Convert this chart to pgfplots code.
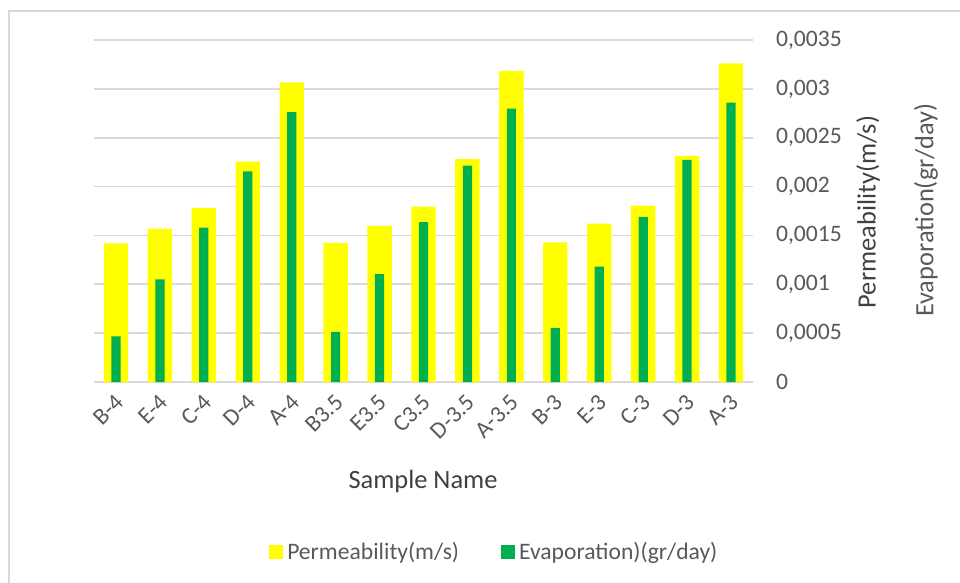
\documentclass[border=0pt]{standalone}
\usepackage{pgfplots}
\pgfplotsset{compat=1.18}
\usepackage{pgfplotstable}
\usepackage{fontspec}
\setmainfont{Carlito}
\definecolor{permY}{HTML}{FFFF00}
\definecolor{evapG}{HTML}{00B050}
\definecolor{gridc}{HTML}{D9D9D9}
\definecolor{txt}{HTML}{595959}
\definecolor{txtd}{HTML}{404040}
\pgfplotstableread{
x perm evap
0  0.001419 0.000468
1  0.001566 0.001051
2  0.001781 0.001579
3  0.002255 0.002156
4  0.003067 0.002763
5  0.001423 0.000512
6  0.001597 0.001105
7  0.001794 0.001637
8  0.002282 0.002214
9  0.003183 0.002797
10 0.001429 0.000553
11 0.001620 0.001180
12 0.001805 0.001689
13 0.002313 0.002272
14 0.003261 0.002859
}\datatable
\newcommand\PX[2]{({#1*0.5pt},{-#2*0.5pt})}
\begin{document}
\begin{tikzpicture}
\useasboundingbox \PX{0}{0} rectangle \PX{960}{583};
\draw[gridc, line width=0.8pt] \PX{9}{583} -- \PX{9}{11} -- \PX{960}{11};
\begin{axis}[
  at={(47pt,-191pt)}, anchor=south west,
  scale only axis, width=329.5pt, height=171pt,
  xmin=-0.5, xmax=14.5, ymin=0, ymax=0.0035,
  scaled y ticks=false,
  axis line style={draw=none},
  major tick style={draw=none},
  ymajorgrids, grid style={gridc, line width=0.85pt},
  ytick={0,0.0005,0.001,0.0015,0.002,0.0025,0.003,0.0035},
  yticklabels={0,{0,0005},{0,001},{0,0015},{0,002},{0,0025},{0,003},{0,0035}},
  yticklabel pos=right,
  yticklabel style={anchor=west, xshift=8pt, font=\fontsize{11.8}{14}\selectfont, text=txt},
  xtick={0,...,14},
  xticklabels={B-4,E-4,C-4,D-4,A-4,B3.5,E3.5,C3.5,D-3.5,A-3.5,B-3,E-3,C-3,D-3,A-3},
  xticklabel style={rotate=45, anchor=east, xshift=2pt, yshift=-4pt, font=\fontsize{11.8}{14}\selectfont, text=txt},
  ybar, bar shift=0pt,
  legend style={at={(0.609,-0.497)}, anchor=center, draw=none, fill=none,
    legend columns=2, font=\fontsize{11.8}{14}\selectfont, text=txt,
    /tikz/every even column/.append style={column sep=19pt}},
  legend cell align=left,
  legend image code/.code={\fill[#1] (0pt,-3.5pt) rectangle (7pt,3.5pt);},
]
\addplot[fill=permY, draw=none, bar width=0.555] table[x=x, y=perm] {\datatable};
\addlegendentry{Permeability(m/s)}
\addplot[fill=evapG, draw=none, bar width=0.21] table[x=x, y=evap] {\datatable};
\addlegendentry{Evaporation)(gr/day)}
\end{axis}
\node[text=txtd, font=\fontsize{13.2}{15}\selectfont] at \PX{423}{481} {Sample Name};
\node[text=txtd, rotate=90, font=\fontsize{13.2}{15}\selectfont] at \PX{868}{212} {Permeability(m/s)};
\node[text=txt, rotate=90, font=\fontsize{13.2}{15}\selectfont] at \PX{926}{210} {Evaporation(gr/day)};
\end{tikzpicture}
\end{document}
